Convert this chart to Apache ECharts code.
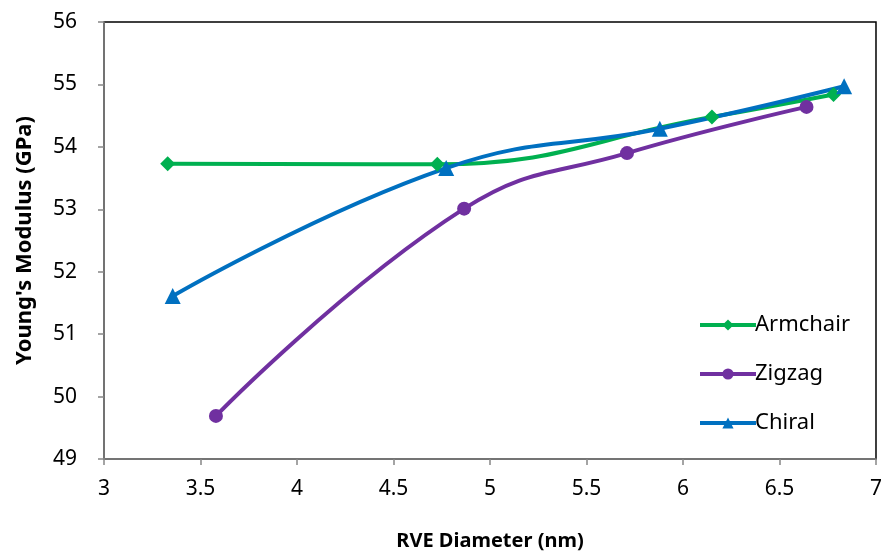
<!DOCTYPE html>
<html>
<head>
<meta charset="utf-8">
<script src="https://cdn.jsdelivr.net/npm/echarts@6/dist/echarts.min.js"></script>
<style>
  html, body { margin: 0; padding: 0; background: #fff; }
  #main { width: 885px; height: 556px; }
</style>
</head>
<body>
<div id="main"></div>
<script>
// values
const seriesNames = ["Armchair", "Zigzag", "Chiral"];
const armchairX = [3.33, 4.727, 6.15, 6.78];
const armchairY = [53.73, 53.72, 54.48, 54.84];
const zigzagX = [3.58, 4.866, 5.71, 6.64];
const zigzagY = [49.69, 53.01, 53.9, 54.64];
const chiralX = [3.356, 4.773, 5.88, 6.835];
const chiralY = [51.61, 53.66, 54.29, 54.97];

const colors = ["#00B050", "#7030A0", "#0070C0"];
const symbols = ["diamond", "circle", "triangle"];
const symbolSizes = [15, 14, 16];

function pairs(xs, ys) {
  return xs.map((x, i) => [x, ys[i]]);
}

const allData = [
  pairs(armchairX, armchairY),
  pairs(zigzagX, zigzagY),
  pairs(chiralX, chiralY),
];

const font = "Noto Sans";

var chartDom = document.getElementById("main");
var myChart = echarts.init(chartDom);

var option = {
  backgroundColor: "#fff",
  animation: false,
  grid: {
    left: 104,
    right: 6,
    top: 22,
    bottom: 97,
    show: true,
    borderColor: "#000",
    borderWidth: 1.5,
  },
  legend: {
    orient: "vertical",
    left: 693,
    top: 309,
    itemWidth: 56,
    itemHeight: 14,
    itemGap: 27,
    data: seriesNames,
    lineStyle: { width: 4 },
    textStyle: { fontFamily: font, fontSize: 22, color: "#000", padding: [0, 0, 0, -6] },
  },
  xAxis: {
    type: "value",
    min: 3,
    max: 7,
    interval: 0.5,
    name: "RVE Diameter (nm)",
    nameLocation: "middle",
    nameGap: 72,
    nameTextStyle: { fontFamily: font, fontSize: 20, fontWeight: "bold", color: "#000" },
    axisLine: { lineStyle: { color: "#868686", width: 1.5 } },
    axisTick: { show: true, length: 6, lineStyle: { color: "#868686", width: 1.5 } },
    axisLabel: { fontFamily: font, fontSize: 21, color: "#000", margin: 20 },
    splitLine: { show: false },
  },
  yAxis: {
    type: "value",
    min: 49,
    max: 56,
    interval: 1,
    name: "Young's Modulus (GPa)",
    nameLocation: "middle",
    nameGap: 68,
    nameTextStyle: { fontFamily: font, fontSize: 22, fontWeight: "bold", color: "#000" },
    axisLine: { show: true, lineStyle: { color: "#868686", width: 1.5 } },
    axisTick: { show: true, length: 6, lineStyle: { color: "#868686", width: 1.5 } },
    axisLabel: { fontFamily: font, fontSize: 21, color: "#000", margin: 27 },
    splitLine: { show: false },
  },
  series: seriesNames.map((name, i) => ({
    name: name,
    type: "line",
    data: allData[i],
    smooth: 0.45,
    symbol: symbols[i],
    symbolSize: symbolSizes[i],
    showAllSymbol: true,
    lineStyle: { color: colors[i], width: 4 },
    itemStyle: { color: colors[i] },
  })),
};

myChart.setOption(option);
</script>
</body>
</html>
